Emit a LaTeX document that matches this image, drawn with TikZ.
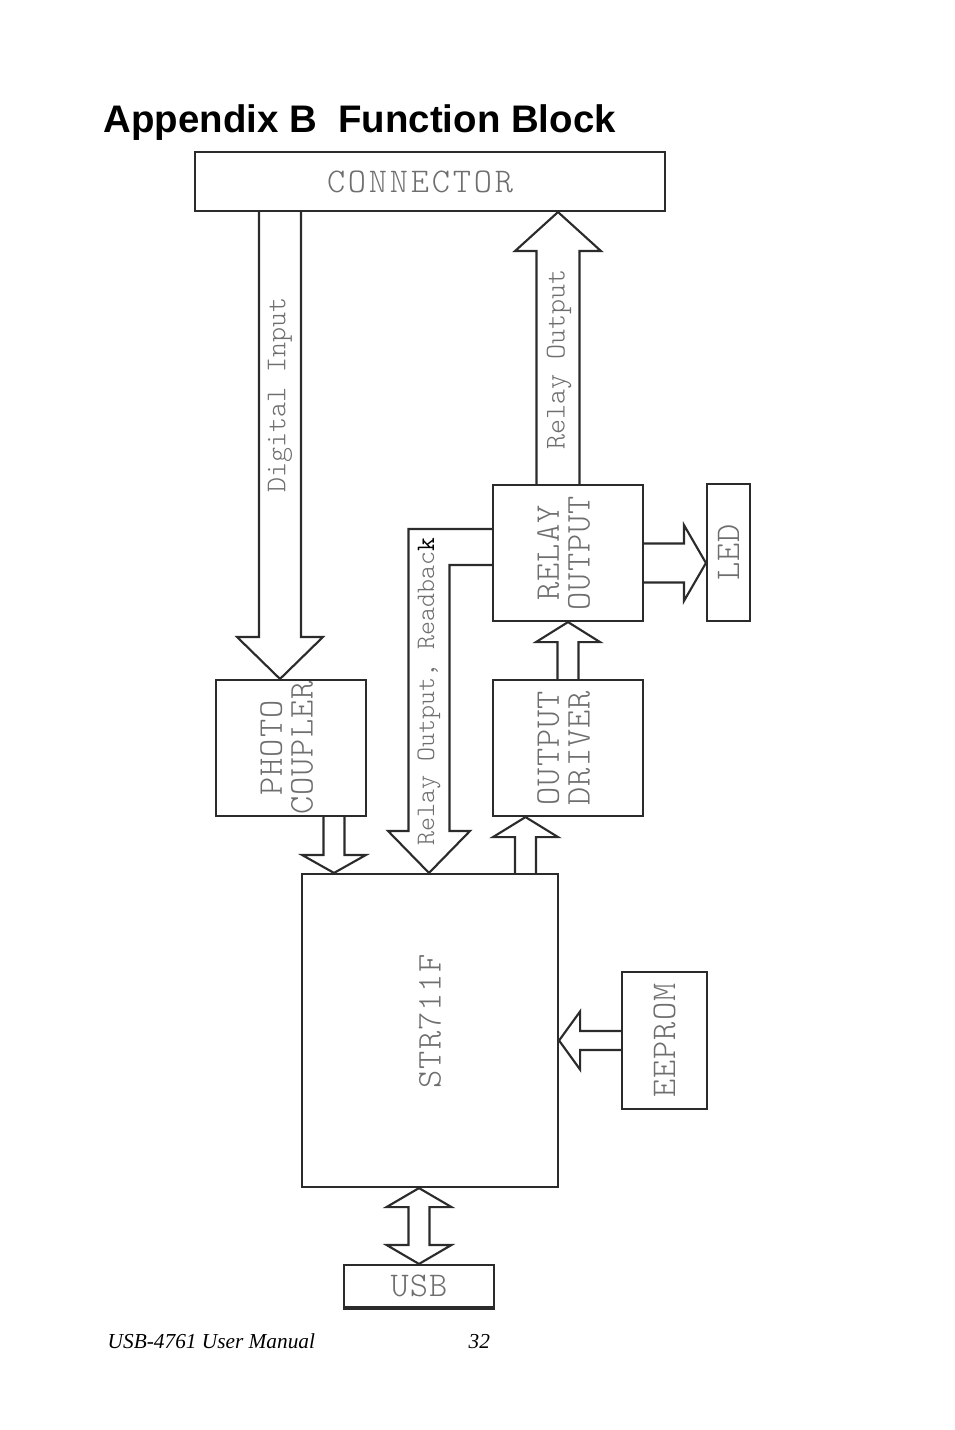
\documentclass[tikz,border=0pt]{standalone}
\usepackage{fontspec}
\usepackage{tikz}
\usetikzlibrary{calc}
\newfontfamily\headfont{Liberation Sans}
\newfontfamily\footfont{Liberation Serif}
\newfontfamily\boxfont{Latin Modern Mono Light}
\definecolor{linegray}{HTML}{2B2B2B}
\definecolor{labelgray}{HTML}{6E6E6E}
\tikzset{block/.style 2 args={draw=linegray, line width=1.6pt, minimum width=#1*0.75pt, minimum height=#2*0.75pt, inner sep=0pt, text=labelgray, font=\boxfont\fontsize{26}{23}\selectfont\addfontfeature{LetterSpace=3}}}
\tikzset{fatarrow/.style={draw=linegray, line width=1.6pt, line join=miter}}
\tikzset{arrowlabel/.style={rotate=90, inner sep=0pt, text=labelgray, font=\boxfont\fontsize{21.5}{21.5}\selectfont}}
% block arrow: start, tip, shaft half width, head half width, head length (px)
\newcommand\blockarrow[5]{%
	\coordinate (ba) at (#1);
	\coordinate (bt) at (#2);
	\coordinate (bh) at ($(bt)!#5*0.75pt!(ba)$);
	\draw[fatarrow] ($(ba)!#3*0.75pt!90:(bt)$) -- ($(bh)!#3*0.75pt!90:(bt)$) -- ($(bh)!#4*0.75pt!90:(bt)$) -- (bt) -- ($(bh)!#4*0.75pt!-90:(bt)$) -- ($(bh)!#3*0.75pt!-90:(bt)$) -- ($(ba)!#3*0.75pt!-90:(bt)$);
}
\begin{document}
\begin{tikzpicture}[x=0.75pt,y=-0.75pt]
		\useasboundingbox (0,0) rectangle (954,1430);
		\node[anchor=base west, font=\headfont\bfseries\fontsize{28.8}{30}\selectfont] (title) at (99,133) {Appendix B\ \ Function Block};
		
		\node[block={470}{59}, font=\boxfont\fontsize{26}{23}\selectfont\addfontfeature{LetterSpace=8}] (conn) at (430,181.5) {CONNECTOR\hspace*{15pt}};
		\node[block={150}{136}] (photo) at (291,748) {\rotatebox{90}{\begin{tabular}{@{}c@{}}PHOTO\\COUPLER\end{tabular}}};
		\node[block={150}{136}] (relay) at (568,553) {\rotatebox{90}{\begin{tabular}{@{}c@{}}RELAY\\OUTPUT\end{tabular}}};
		\node[block={43}{137}] (led) at (728.5,552.5) {\rotatebox{90}{LED}};
		\node[block={150}{136}] (drv) at (568,748) {\rotatebox{90}{\begin{tabular}{@{}c@{}}OUTPUT\\DRIVER\end{tabular}}};
		\node[block={256}{313}] (str) at (430,1030.5) {\rotatebox{90}{\hspace*{13.5pt}STR711F}};
		\node[block={85}{137}] (eeprom) at (664.5,1040.5) {\rotatebox{90}{EEPROM}};
		\node[block={150}{42}] (usb) at (419,1286) {USB};
		\draw[linegray, line width=3pt] (usb.south west) -- (usb.south east);
		
		\coordinate (dix) at (280,0);
		\coordinate (rox) at (558,0);
		\coordinate (ledy) at (0,563);
		\coordinate (pcx) at (334,0);
		\coordinate (sdx) at (525.5,0);
		\coordinate (rbx) at (429,0);
		\coordinate (rb1) at (0,529);
		\coordinate (rb2) at (0,565);
		\coordinate (usbx) at (419,0);
		
		\blockarrow{conn.south -| dix}{photo.north -| dix}{21}{43}{42}
		\blockarrow{relay.north -| rox}{conn.south -| rox}{21.5}{43}{39}
		\blockarrow{relay.east |- ledy}{led.west |- ledy}{19.5}{38}{22}
		\blockarrow{drv.north}{relay.south}{10.5}{32}{20}
		\blockarrow{photo.south -| pcx}{str.north -| pcx}{10.5}{32}{18}
		\blockarrow{str.north -| sdx}{drv.south -| sdx}{10.5}{32.5}{20}
		\blockarrow{eeprom.west}{str.east |- eeprom.west}{9.5}{29}{21}
		
		\coordinate (rbtip) at (str.north -| rbx);
		\draw[fatarrow] (relay.west |- rb1) -| ($(rbtip)+(-20.5,-42)$) -- ++(-20.5,0) -- (rbtip) -- ++(41,-42) -- ++(-20.5,0) |- (relay.west |- rb2);
		
		\coordinate (usbt) at (str.south -| usbx);
		\coordinate (usbb) at (usb.north -| usbx);
		\draw[fatarrow] (usbt) -- ++(-32.5,19) -- ++(22,0) -- ($(usbb)+(-10.5,-19)$) -- ++(-22,0) -- (usbb) -- ++(32.5,-19) -- ++(-22,0) -- ($(usbt)+(10.5,19)$) -- ++(22,0) -- cycle;
		
		\node[arrowlabel] (dilab) at (280,395) {Digital Input};
		\node[arrowlabel] (rolab) at (559,359.5) {Relay Output};
		\node[arrowlabel, font=\boxfont\fontsize{20}{20}\selectfont] (rblab) at (429,691.5) {Relay Output, Readbac{\color{black}\ttfamily k}};
		
		\node[anchor=base west, font=\footfont\itshape\fontsize{16}{18}\selectfont] (manual) at (103,1348) {USB-4761 User Manual};
		\node[anchor=base west, font=\footfont\itshape\fontsize{16}{18}\selectfont] (page) at (464,1348) {32};
\end{tikzpicture}
\end{document}
